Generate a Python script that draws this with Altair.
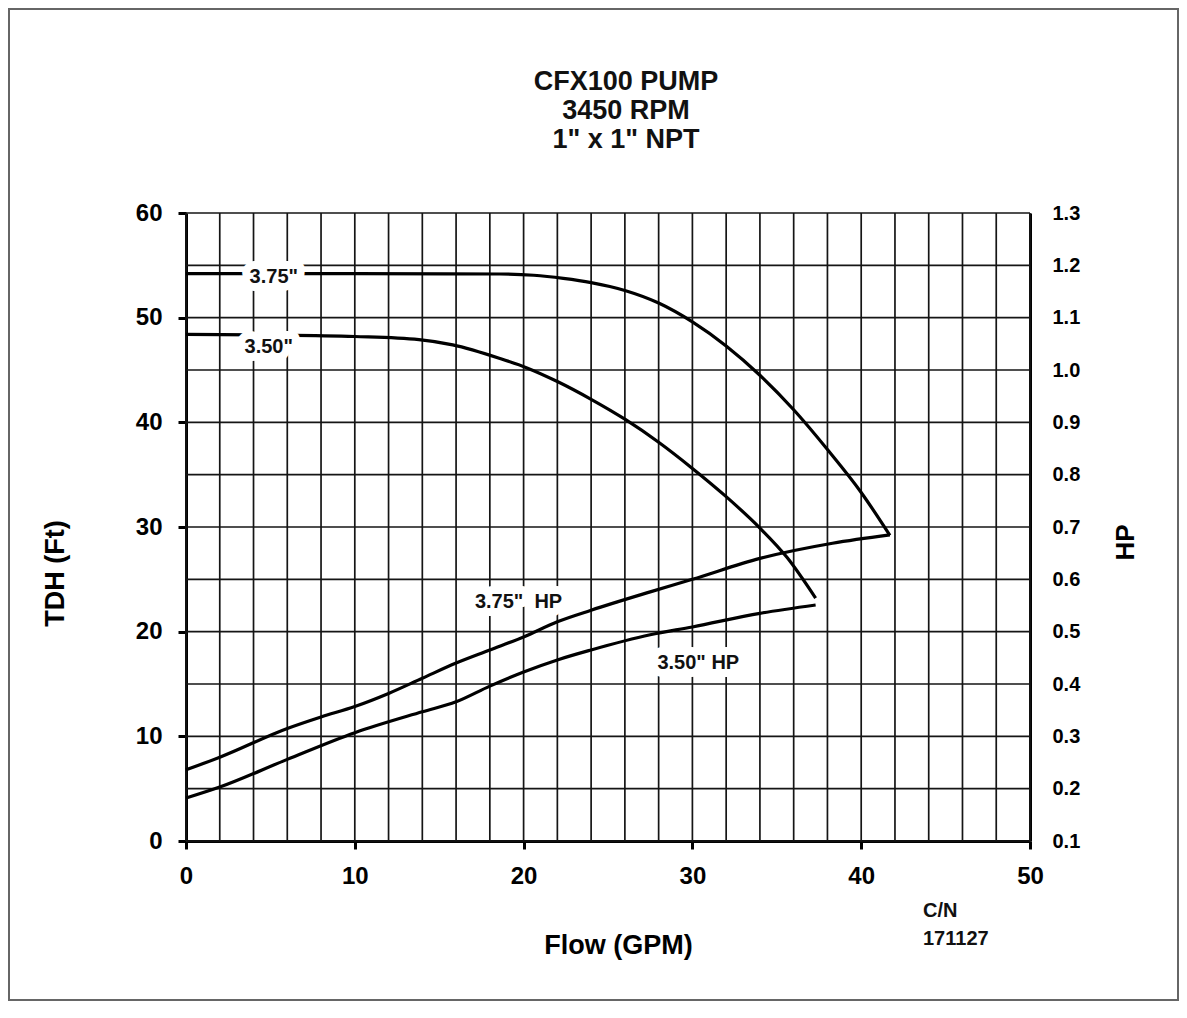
import altair as alt
import pandas as pd

FONT = "Liberation Sans"

# ---- data ----
flow_375 = [0, 10, 18.6, 20.6, 22.35, 24, 26, 28, 30, 32, 34, 36, 38, 40, 41.7]
head_375 = [54.2, 54.2, 54.17, 54.05, 53.75, 53.35, 52.6, 51.4, 49.6, 47.3, 44.5, 41.2, 37.4, 33.3, 29.2]

flow_350 = [0, 5, 10, 13.8, 15.8, 18.6, 20.2, 22, 24, 26, 28, 30, 32, 34, 35.6, 37.3]
head_350 = [48.4, 48.35, 48.2, 47.9, 47.4, 46.1, 45.2, 43.9, 42.2, 40.3, 38.1, 35.6, 32.9, 29.9, 27.1, 23.2]

hp_flow_375 = [0, 2, 6, 8, 10, 12, 14, 16, 18, 20, 22, 24, 27.5, 30, 34, 38.3, 41.7]
hp_375 = [0.236, 0.260, 0.315, 0.337, 0.357, 0.382, 0.411, 0.440, 0.465, 0.490, 0.519, 0.541, 0.576, 0.600, 0.640, 0.669, 0.685]

hp_flow_350 = [0, 2, 6, 10, 14, 16, 18, 20, 22, 24, 27.5, 30, 34, 37.3]
hp_350 = [0.182, 0.203, 0.256, 0.307, 0.347, 0.366, 0.396, 0.423, 0.446, 0.465, 0.494, 0.509, 0.535, 0.551]

x_ticks = [0, 10, 20, 30, 40, 50]
y_ticks = [0, 10, 20, 30, 40, 50, 60]
hp_ticks = [0.1, 0.2, 0.3, 0.4, 0.5, 0.6, 0.7, 0.8, 0.9, 1.0, 1.1, 1.2, 1.3]
x_grid = list(range(0, 51, 2))
y_grid = list(range(0, 61, 5))

label_text = ['3.75"', '3.50"', '3.75"\u00a0\u00a0HP', '3.50" HP']
label_flow = [5.2, 4.9, 19.7, 30.35]
label_head = [53.9, 47.15, 22.8, 17.05]

title_text = 'CFX100 PUMP\n3450 RPM\n1" x 1" NPT'
cn_text = "C/N\n171127"

# ---- tables ----
head_df = pd.DataFrame({
    "flow": flow_375 + flow_350,
    "head": head_375 + head_350,
    "series": ['3.75"'] * len(flow_375) + ['3.50"'] * len(flow_350),
})
hp_df = pd.DataFrame({
    "flow": hp_flow_375 + hp_flow_350,
    "hp": hp_375 + hp_350,
    "series": ['3.75" HP'] * len(hp_flow_375) + ['3.50" HP'] * len(hp_flow_350),
})
xg_df = pd.DataFrame({"g": x_grid})
yg_df = pd.DataFrame({"g": y_grid})
lab_df = pd.DataFrame({"t": label_text, "x": label_flow, "y": label_head})
one = pd.DataFrame({"a": [0]})

W, H = 844, 628
xs = alt.Scale(domain=[0, 50], nice=False, zero=False)
ys = alt.Scale(domain=[0, 60], nice=False)
hps = alt.Scale(domain=[0.1, 1.3], nice=False, zero=False)

GRID = "#151515"

common_axis = dict(
    domainColor="black", domainWidth=3, tickColor="black", tickWidth=3,
    labelFont=FONT, labelFontWeight="bold", labelColor="black",
    titleFont=FONT, titleFontWeight="bold", titleColor="black",
    grid=False, labelOverlap=False, labelFlush=False,
)

x_axis = alt.Axis(values=x_ticks, title="Flow (GPM)", orient="bottom", tickSize=8, labelFontSize=24,
                  labelPadding=15, titleFontSize=27, titleX=432, titleY=104,
                  titleBaseline="middle", titleAlign="center", **common_axis)
left_axis = alt.Axis(values=y_ticks, title="TDH (Ft)", orient="left", tickSize=8,
                     labelFontSize=24, labelPadding=16, titleFontSize=27,
                     titleAngle=270, titleX=-131, titleY=360,
                     titleBaseline="middle", titleAlign="center", **common_axis)
right_axis = alt.Axis(values=hp_ticks, format=".1f", title="HP", orient="right",
                      ticks=False, tickSize=0, labelFontSize=20, labelPadding=22,
                      titleFontSize=26, titleAngle=270, titleX=95, titleY=329,
                      titleBaseline="middle", titleAlign="center", **common_axis)


def X(field):
    return alt.X(field, scale=xs, axis=x_axis)


vgrid = alt.Chart(xg_df).mark_rule(color=GRID, strokeWidth=1.7).encode(x=X("g:Q"))
hgrid = alt.Chart(yg_df).mark_rule(color=GRID, strokeWidth=1.7).encode(
    y=alt.Y("g:Q", scale=ys, axis=None))

heads = alt.Chart(head_df).mark_line(color="black", strokeWidth=3.2, interpolate="monotone").encode(
    x=X("flow:Q"),
    y=alt.Y("head:Q", scale=ys, axis=left_axis),
    detail="series:N",
)
hps_lines = alt.Chart(hp_df).mark_line(color="black", strokeWidth=3.2, interpolate="monotone").encode(
    x=X("flow:Q"),
    y=alt.Y("hp:Q", scale=hps, axis=right_axis),
    detail="series:N",
)

halo = alt.Chart(lab_df).mark_text(font=FONT, fontSize=20, fontWeight="bold", color="white",
                                   stroke="white", strokeWidth=16, strokeJoin="round").encode(
    x=X("x:Q"),
    y=alt.Y("y:Q", scale=ys, axis=None),
    text="t:N",
)
labels = alt.Chart(lab_df).mark_text(font=FONT, fontSize=20, fontWeight="bold", color="#111").encode(
    x=X("x:Q"),
    y=alt.Y("y:Q", scale=ys, axis=None),
    text="t:N",
)

title = alt.Chart(one).mark_text(font=FONT, fontSize=27, fontWeight="bold", color="#111",
                                 align="center", baseline="middle", lineBreak="\n", lineHeight=29).encode(
    x=alt.value(440), y=alt.value(-131), text=alt.value(title_text))

cn = alt.Chart(one).mark_text(font=FONT, fontSize=20, fontWeight="bold", color="#111",
                              align="left", baseline="top", lineBreak="\n", lineHeight=28).encode(
    x=alt.value(737), y=alt.value(688), text=alt.value(cn_text))

frame = alt.Chart(one).mark_rect(fillOpacity=0, stroke="#666", strokeWidth=2).encode(
    x=alt.value(-177), x2=alt.value(W + 148), y=alt.value(-204), y2=alt.value(H + 159))

chart = alt.layer(vgrid, hgrid, heads, hps_lines, halo, labels, title, cn, frame).resolve_scale(
    y="independent"
).properties(
    width=W, height=H,
    padding={"left": 178, "top": 205, "right": 149, "bottom": 160},
    autosize=alt.AutoSizeParams(type="none"),
    background="white",
).configure_view(stroke=None)

chart.save("out.html", embed_options={"renderer": "svg", "actions": False})
